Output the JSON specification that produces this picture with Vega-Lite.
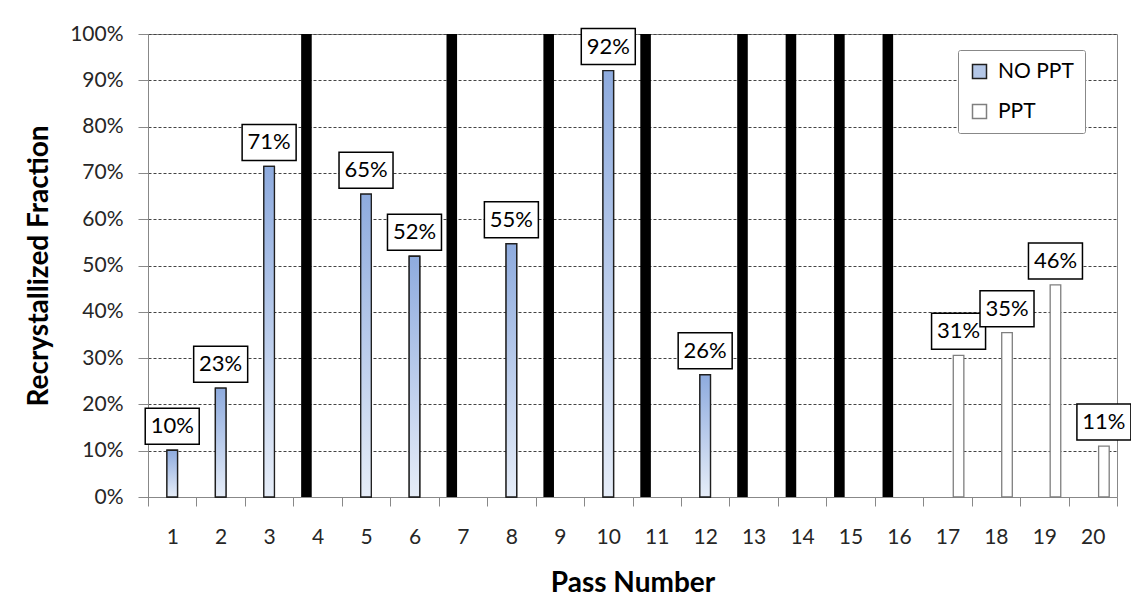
{
  "$schema": "https://vega.github.io/schema/vega-lite/v6.json",
  "autosize": {"type": "none"},
  "width": 969,
  "height": 463,
  "padding": {"left": 148, "top": 34, "right": 14, "bottom": 108},
  "background": "white",
  "config": {"font": "Lato", "view": {"stroke": "#888888", "strokeWidth": 1}},
  "data": {
    "values": [
      {"pass": 1, "value": 0.101, "s": "B", "series": "NO PPT", "lab": "10%"},
      {"pass": 2, "value": 0.235, "s": "B", "series": "NO PPT", "lab": "23%"},
      {"pass": 3, "value": 0.714, "s": "B", "series": "NO PPT", "lab": "71%"},
      {"pass": 4, "value": 1.0, "s": "A", "series": "BLOCK", "lab": null},
      {"pass": 5, "value": 0.654, "s": "B", "series": "NO PPT", "lab": "65%"},
      {"pass": 6, "value": 0.52, "s": "B", "series": "NO PPT", "lab": "52%"},
      {"pass": 7, "value": 1.0, "s": "A", "series": "BLOCK", "lab": null},
      {"pass": 8, "value": 0.547, "s": "B", "series": "NO PPT", "lab": "55%"},
      {"pass": 9, "value": 1.0, "s": "A", "series": "BLOCK", "lab": null},
      {"pass": 10, "value": 0.921, "s": "B", "series": "NO PPT", "lab": "92%"},
      {"pass": 11, "value": 1.0, "s": "A", "series": "BLOCK", "lab": null},
      {"pass": 12, "value": 0.264, "s": "B", "series": "NO PPT", "lab": "26%"},
      {"pass": 13, "value": 1.0, "s": "A", "series": "BLOCK", "lab": null},
      {"pass": 14, "value": 1.0, "s": "A", "series": "BLOCK", "lab": null},
      {"pass": 15, "value": 1.0, "s": "A", "series": "BLOCK", "lab": null},
      {"pass": 16, "value": 1.0, "s": "A", "series": "BLOCK", "lab": null},
      {"pass": 17, "value": 0.306, "s": "C", "series": "PPT", "lab": "31%"},
      {"pass": 18, "value": 0.355, "s": "C", "series": "PPT", "lab": "35%"},
      {"pass": 19, "value": 0.458, "s": "C", "series": "PPT", "lab": "46%"},
      {"pass": 20, "value": 0.11, "s": "C", "series": "PPT", "lab": "11%"}
    ]
  },
  "encoding": {
    "x": {
      "field": "pass",
      "type": "ordinal",
      "scale": {"domain": [1,2,3,4,5,6,7,8,9,10,11,12,13,14,15,16,17,18,19,20], "paddingInner": 0, "paddingOuter": 0},
      "axis": {
        "labelAngle": 0,
        "tickBand": "extent",
        "tickSize": 9,
        "tickColor": "#888888",
        "domainColor": "#888888",
        "labelFontSize": 21,
        "labelColor": "#262626",
        "labelPadding": 20,
        "title": "Pass Number",
        "titleFontSize": 28,
        "titleFontWeight": "bold",
        "titleColor": "black",
        "titlePadding": 22
      }
    },
    "xOffset": {
      "field": "s",
      "type": "nominal",
      "scale": {"domain": ["A", "B", "C"], "paddingInner": 0.05, "paddingOuter": 0.7}
    },
    "y": {
      "field": "value",
      "type": "quantitative",
      "scale": {"domain": [0, 1]},
      "axis": {
        "format": "%",
        "values": [0, 0.1, 0.2, 0.3, 0.4, 0.5, 0.6, 0.7, 0.8, 0.9, 1.0],
        "grid": true,
        "gridDash": [3, 2],
        "gridColor": "#444444",
        "gridWidth": 1,
        "domainColor": "#888888",
        "tickColor": "#888888",
        "tickSize": 10,
        "labelFontSize": 21,
        "labelColor": "#262626",
        "labelPadding": 15,
        "title": "Recrystallized Fraction",
        "titleFontSize": 28,
        "titleFontWeight": "bold",
        "titleColor": "black",
        "titlePadding": 16
      }
    }
  },
  "layer": [
    {
      "transform": [{"filter": "datum.s === 'A'"}],
      "mark": {"type": "bar", "fill": "black", "stroke": null}
    },
    {
      "transform": [{"filter": "datum.s !== 'A'"}],
      "mark": {"type": "bar", "strokeWidth": 1.3},
      "encoding": {
        "color": {
          "field": "series",
          "type": "nominal",
          "scale": {"domain": ["NO PPT", "PPT"], "range": ["#b4c7e7", "#ffffff"]},
          "legend": {
            "title": null,
            "orient": "none",
            "legendX": 810,
            "legendY": 16,
            "strokeColor": "#888888",
            "fillColor": "white",
            "padding": 11,
            "cornerRadius": 2,
            "labelFontSize": 21,
            "labelColor": "black",
            "symbolType": "square",
            "symbolSize": 196,
            "symbolStrokeWidth": 1.5,
            "rowPadding": 18,
            "labelOffset": 8
          }
        },
        "stroke": {
          "field": "series",
          "type": "nominal",
          "scale": {"domain": ["NO PPT", "PPT"], "range": ["#1f1f1f", "#7f7f7f"]},
          "legend": {
            "title": null,
            "orient": "none",
            "legendX": 810,
            "legendY": 16,
            "strokeColor": "#888888",
            "fillColor": "white",
            "padding": 11,
            "cornerRadius": 2,
            "labelFontSize": 21,
            "labelColor": "black",
            "symbolType": "square",
            "symbolSize": 196,
            "symbolStrokeWidth": 1.5,
            "rowPadding": 18,
            "labelOffset": 8
          }
        }
      }
    },
    {
      "transform": [{"filter": "datum.s === 'B'"}],
      "mark": {
        "type": "bar",
        "stroke": "#1f1f1f",
        "strokeWidth": 1.3,
        "fill": {
          "gradient": "linear",
          "x1": 0, "y1": 0, "x2": 0, "y2": 1,
          "stops": [
            {"offset": 0, "color": "#8eabde"},
            {"offset": 1, "color": "#e6edf8"}
          ]
        }
      }
    },
    {
      "transform": [{"filter": "datum.lab != null"}],
      "mark": {
        "type": "point",
        "shape": "M-1.5,-1L1.5,-1L1.5,1L-1.5,1Z",
        "size": 1296,
        "filled": true,
        "fill": "white",
        "stroke": "black",
        "strokeWidth": 1.5,
        "opacity": 1,
        "yOffset": -24
      }
    },
    {
      "transform": [{"filter": "datum.lab != null"}],
      "mark": {"type": "text", "fontSize": 22, "baseline": "middle", "align": "center", "color": "black", "yOffset": -24},
      "encoding": {"text": {"field": "lab"}}
    }
  ]
}
